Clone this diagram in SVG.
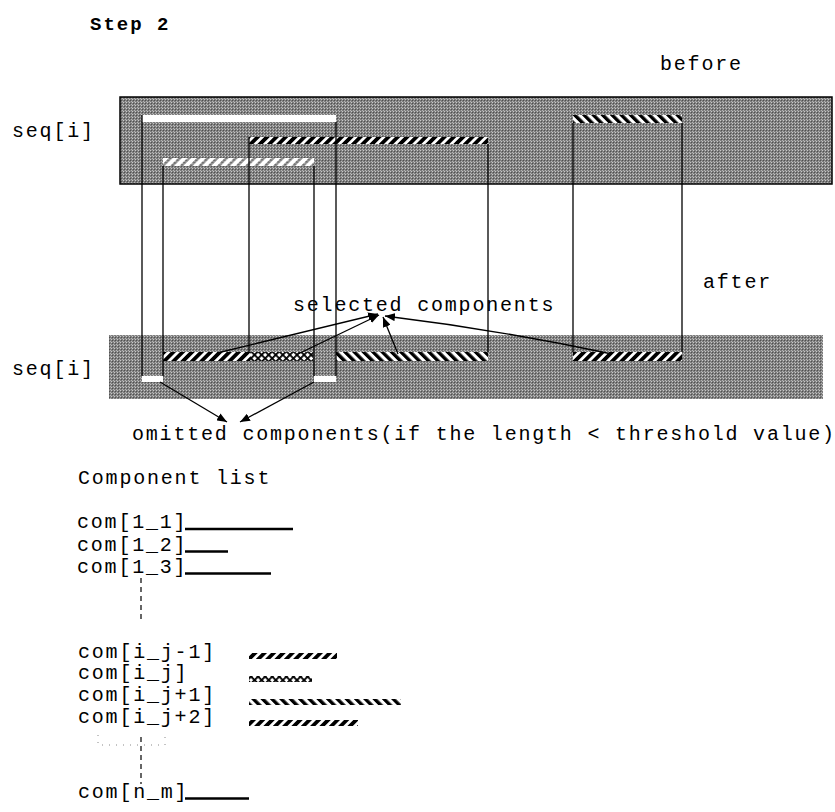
<svg xmlns="http://www.w3.org/2000/svg" width="835" height="812" viewBox="0 0 835 812">
<style>
.t{font-family:"Liberation Mono","Courier New",monospace;font-size:20px;letter-spacing:1.8px;fill:#000}
.b{font-weight:bold;font-size:19px;letter-spacing:2px}
.v{stroke:#000;stroke-width:1.3;fill:none}
.a{stroke:#000;stroke-width:1.3;fill:none;marker-end:url(#ah)}
.u{stroke:#000;stroke-width:2.5}
</style>
<defs>
<pattern id="gr" width="3" height="3" patternUnits="userSpaceOnUse">
<rect width="3" height="3" fill="#7e7e7e"/>
<rect x="0" y="0" width="1" height="1" fill="#c8c8c8"/>
<rect x="1" y="1" width="1" height="1" fill="#505050"/>
<rect x="2" y="2" width="1" height="1" fill="#b4b4b4"/>
</pattern>
<pattern id="fw" width="6.6" height="10" patternUnits="userSpaceOnUse" patternTransform="rotate(45)">
<rect width="6.6" height="10" fill="#fff"/><rect width="3.8" height="10" fill="#000"/>
</pattern>
<pattern id="bw" width="6.6" height="10" patternUnits="userSpaceOnUse" patternTransform="rotate(-45)">
<rect width="6.6" height="10" fill="#fff"/><rect width="3.4" height="10" fill="#000"/>
</pattern>
<pattern id="fg" width="6.6" height="10" patternUnits="userSpaceOnUse" patternTransform="rotate(45)">
<rect width="6.6" height="10" fill="#fff"/><rect width="2.6" height="10" fill="url(#gr)"/>
</pattern>
<pattern id="xx" width="5" height="5" patternUnits="userSpaceOnUse" patternTransform="rotate(45)">
<rect width="5" height="5" fill="#fff"/><rect width="1.8" height="5" fill="#000"/><rect width="5" height="1.8" fill="#000"/>
</pattern>
<marker id="ah" viewBox="0 0 10 8" refX="10" refY="4" markerWidth="10" markerHeight="8" markerUnits="userSpaceOnUse" orient="auto">
<path d="M0,0 L10,4 L0,8 z" fill="#000"/>
</marker>
</defs>

<g id="title"><text class="t b" x="90" y="30">Step 2</text></g>
<g id="label-before"><text class="t" x="660" y="70">before</text></g>
<g id="label-after"><text class="t" x="703" y="288">after</text></g>
<g id="label-seq-top"><text class="t" x="12" y="137">seq[i]</text></g>
<g id="label-seq-bottom"><text class="t" x="12" y="375">seq[i]</text></g>

<g id="seq-before">
<rect x="120" y="97" width="712" height="87" fill="url(#gr)" stroke="#000" stroke-width="1.5"/>
<rect x="142" y="115" width="194" height="7" fill="#fff"/>
<rect x="249" y="137" width="239" height="7" fill="url(#fw)"/>
<rect x="163" y="158" width="151" height="8" fill="url(#fg)"/>
<rect x="573" y="115" width="109" height="8" fill="url(#bw)"/>
</g>

<g id="seq-after">
<rect x="109" y="335" width="714" height="64" fill="url(#gr)"/>
<rect x="163" y="352" width="87" height="9" fill="url(#fw)"/>
<rect x="250" y="352" width="63" height="9" fill="url(#xx)"/>
<rect x="336" y="352" width="152" height="9" fill="url(#bw)"/>
<rect x="573" y="352" width="109" height="9" fill="url(#fw)"/>
<rect x="142" y="376" width="21" height="6" fill="#fff"/>
<rect x="314" y="376" width="22" height="6" fill="#fff"/>
</g>

<g id="label-selected"><text class="t" x="293" y="311">selected components</text></g>
<g id="label-omitted"><text class="t" x="132" y="440">omitted components(if the length &lt; threshold value)</text></g>

<g id="connectors">
<line class="v" x1="142" y1="115" x2="142" y2="376"/>
<line class="v" x1="163" y1="166" x2="163" y2="376"/>
<line class="v" x1="249" y1="137" x2="249" y2="352"/>
<line class="v" x1="314" y1="166" x2="314" y2="376"/>
<line class="v" x1="336" y1="122" x2="336" y2="376"/>
<line class="v" x1="488" y1="144" x2="488" y2="352"/>
<line class="v" x1="573" y1="123" x2="573" y2="352"/>
<line class="v" x1="682" y1="123" x2="682" y2="352"/>
<line class="a" x1="217" y1="353" x2="378" y2="314"/>
<line class="a" x1="298" y1="354" x2="379" y2="315"/>
<line class="a" x1="398" y1="354" x2="383" y2="317"/>
<path class="a" d="M612,354 Q500,330 385,316"/>
<line class="a" x1="160" y1="382" x2="227" y2="422"/>
<line class="a" x1="314" y1="382" x2="240" y2="422"/>
</g>

<g id="component-list">
<text class="t" x="78" y="484">Component list</text>
<text class="t" x="77" y="528">com[1_1]</text>
<line class="u" x1="185" y1="529" x2="293" y2="529"/>
<text class="t" x="77" y="551">com[1_2]</text>
<line class="u" x1="185" y1="551.5" x2="228" y2="551.5"/>
<text class="t" x="77" y="573">com[1_3]</text>
<line class="u" x1="185" y1="573.5" x2="271" y2="573.5"/>
<line x1="141" y1="578" x2="141" y2="622" stroke="#000" stroke-width="1.2" stroke-dasharray="5,4"/>
<text class="t" x="78" y="658">com[i_j-1]</text>
<rect x="249" y="653" width="88" height="6" fill="url(#fw)"/>
<text class="t" x="78" y="679">com[i_j]</text>
<rect x="249" y="676" width="63" height="6" fill="url(#xx)"/>
<text class="t" x="78" y="701">com[i_j+1]</text>
<rect x="249" y="699" width="152" height="6" fill="url(#bw)"/>
<text class="t" x="78" y="723">com[i_j+2]</text>
<rect x="249" y="720" width="109" height="6" fill="url(#fw)"/>
<path d="M98,735 L98,745 L165,745 L165,733" fill="none" stroke="#888" stroke-width="1" stroke-dasharray="1,6"/>
<line x1="141" y1="737" x2="141" y2="784" stroke="#000" stroke-width="1.2" stroke-dasharray="5,4"/>
<text class="t" x="78" y="798">com[n_m]</text>
<line class="u" x1="185" y1="798.5" x2="249" y2="798.5"/>
</g>
</svg>
